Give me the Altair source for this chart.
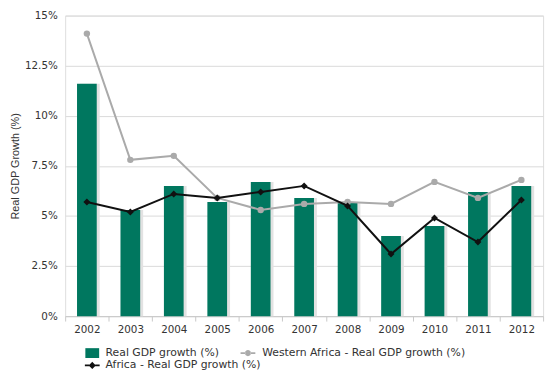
import altair as alt
import pandas as pd

years = ["2002", "2003", "2004", "2005", "2006", "2007", "2008", "2009", "2010", "2011", "2012"]
real_gdp = [11.6, 5.3, 6.5, 5.7, 6.7, 5.9, 5.7, 4.0, 4.5, 6.2, 6.5]
western_africa = [14.1, 7.8, 8.0, 5.9, 5.3, 5.6, 5.7, 5.6, 6.7, 5.9, 6.8]
africa = [5.7, 5.2, 6.1, 5.9, 6.2, 6.5, 5.5, 3.1, 4.9, 3.7, 5.8]

S_BAR = "Real GDP growth (%)"
S_WA = "Western Africa - Real GDP growth (%)"
S_AF = "Africa - Real GDP growth (%)"
C_BAR, C_WA, C_AF = "#00775f", "#aaaaaa", "#111111"
y_ticks = [0, 2.5, 5, 7.5, 10, 12.5, 15]

bars = pd.DataFrame({"year": years, "value": real_gdp, "series": S_BAR})
wa = pd.DataFrame({"year": years, "value": western_africa, "series": S_WA})
af = pd.DataFrame({"year": years, "value": africa, "series": S_AF})
bar_af = pd.concat([bars, af], ignore_index=True)

FONT = "DejaVu Sans"
TXT = "#333333"

x_enc = alt.X("year:N", sort=years, title=None,
              axis=alt.Axis(labelAngle=0, labelFont=FONT, labelFontSize=10.5,
                            labelColor=TXT, tickBand="extent", tickColor="#c8c8c8",
                            tickSize=5, domainColor="#c8c8c8", labelPadding=4, grid=False),
              scale=alt.Scale(paddingInner=0.0, paddingOuter=0.0))
y_scale = alt.Scale(domain=[0, 15], nice=False)
y_enc = alt.Y("value:Q", scale=y_scale, title="Real GDP Growth (%)",
              axis=alt.Axis(values=y_ticks, labelExpr="datum.value + '%'",
                            labelFont=FONT, labelFontSize=10.5, labelColor=TXT,
                            titleFont="Liberation Sans", titleFontSize=11, titleFontWeight="normal",
                            titleColor=TXT, titlePadding=4,
                            domain=False, ticks=False, gridColor="#d9d9d9", labelPadding=8))
xs = alt.X("year:N", sort=years)
ys = alt.Y("value:Q", scale=y_scale)

SQ = "M-1.4,-1H1.4V1H-1.4Z"
WA_SYM = ("M-1.5,-0.18H-0.55V0.18H-1.5Z M0.55,-0.18H1.5V0.18H0.55Z "
          "M-0.62,0A0.62,0.62 0 1,0 0.62,0A0.62,0.62 0 1,0 -0.62,0Z")
AF_SYM = "M-1.5,-0.18H-0.6V0.18H-1.5Z M0.6,-0.18H1.5V0.18H0.6Z M0,-0.72L0.72,0L0,0.72L-0.72,0Z"

common_legend = dict(title=None, orient="none", legendY=337, symbolSize=100,
                     symbolStrokeWidth=0, symbolOpacity=1, labelFont=FONT, labelFontSize=11,
                     labelColor=TXT, labelLimit=400, rowPadding=0.5,
                     direction="vertical")
legend_a = alt.Legend(legendX=22, labelOffset=8, **common_legend)
legend_b = alt.Legend(legendX=180, labelOffset=9, symbolType=WA_SYM, **common_legend)

shadow = alt.Chart(bars).mark_bar(size=20, xOffset=3, color="#e2e2e2").encode(x=x_enc, y=ys)
bar_layer = alt.Chart(bars).mark_bar(size=20, color=C_BAR).encode(x=x_enc, y=y_enc)

wa_line = alt.Chart(wa).mark_line(strokeWidth=2, color=C_WA).encode(x=xs, y=ys)
wa_pts = alt.Chart(wa).mark_point(shape="circle", filled=True, size=42, opacity=1,
                                  color=C_WA).encode(x=xs, y=ys)

af_line = alt.Chart(af).mark_line(strokeWidth=2, color=C_AF).encode(x=xs, y=ys)
af_pts = alt.Chart(af).mark_point(shape="diamond", filled=True, size=50, opacity=1,
                                  color=C_AF).encode(x=xs, y=ys)

helper_a = alt.Chart(bar_af).mark_point(filled=True, opacity=0, size=0).encode(
    x=xs, y=ys,
    color=alt.Color("series:N", scale=alt.Scale(domain=[S_BAR, S_AF], range=[C_BAR, C_AF]),
                    legend=legend_a),
    shape=alt.Shape("series:N", scale=alt.Scale(domain=[S_BAR, S_AF], range=[SQ, AF_SYM]),
                    legend=legend_a))
helper_b = alt.Chart(wa).mark_point(filled=True, opacity=0, size=0).encode(
    x=xs, y=ys,
    fill=alt.Fill("series:N", scale=alt.Scale(domain=[S_WA], range=[C_WA]), legend=legend_b))

chart = alt.layer(shadow, bar_layer, wa_line, wa_pts, af_line, af_pts,
                  helper_a, helper_b).properties(
    width=485, height=305,
    autosize=alt.AutoSizeParams(type="none"),
    padding={"left": 58, "top": 5, "right": 6, "bottom": 54},
).configure_view(stroke=None).configure(background="white")

chart.save("out.html", embed_options={"renderer": "svg", "actions": False})
